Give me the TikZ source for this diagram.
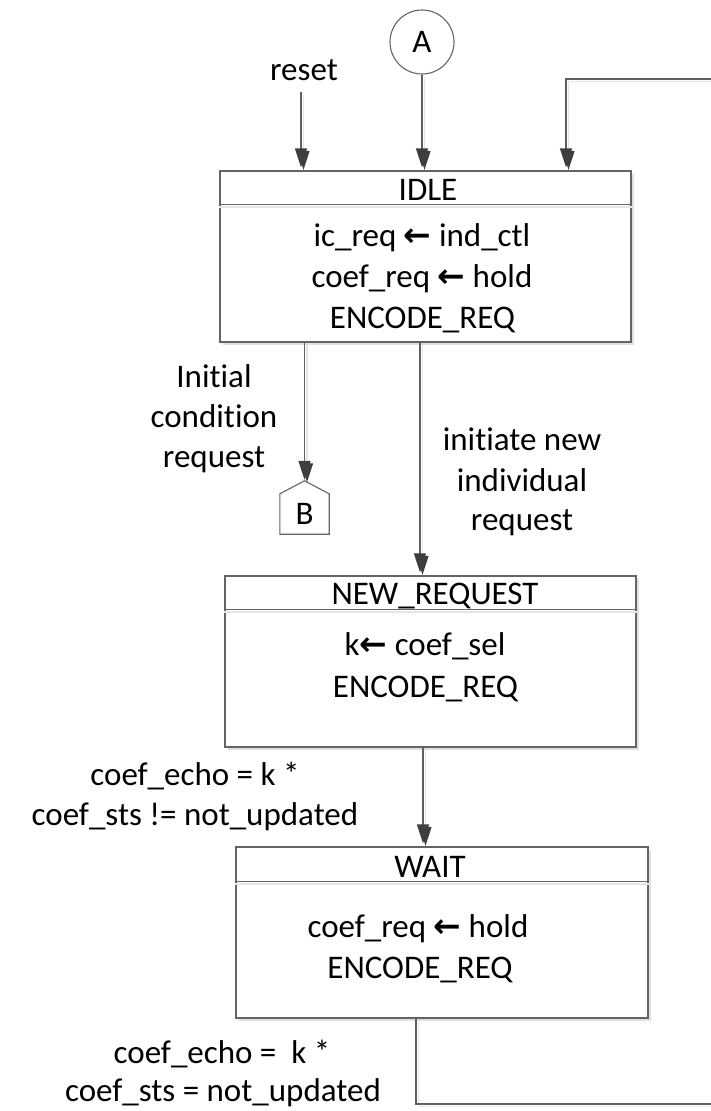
\documentclass[tikz,border=0pt]{standalone}
\usepackage{fontspec}
\setmainfont{Carlito}[Ligatures=NoCommon]
\newfontfamily\arrowfont{DejaVu Sans}
\usetikzlibrary{arrows.meta,shadows}

\definecolor{wirec}{RGB}{95,95,95}
\definecolor{tipc}{RGB}{62,62,62}
\definecolor{edgec}{RGB}{100,100,100}
\newcommand{\getsarrow}{{\arrowfont\bfseries ←}}

\begin{document}
\begin{tikzpicture}[x=1pt,y=-1pt,
  font=\fontsize{33}{40}\selectfont,
  wire/.style={draw=wirec, line width=1.3pt,
    preaction={draw=black!10, line width=1.3pt,
      transform canvas={shift={(2.5pt,-2.5pt)}}}},
  arr/.style={wire, -{Triangle[length=19pt,width=12pt,color=tipc]}, shorten >=3pt},
  state/.style={draw=edgec, line width=1.3pt, fill=white, inner sep=0pt,
    minimum width=411pt, minimum height=171pt,
    drop shadow={shadow xshift=2.5pt, shadow yshift=-2.5pt, fill=black!12, opacity=1}},
  hdr/.style={draw=edgec, line width=1.3pt,
    preaction={draw=black!10, line width=1.3pt,
      transform canvas={shift={(0pt,-2.5pt)}}}},
  txt/.style={anchor=base, inner sep=0pt},
  conn/.style={draw=edgec, line width=1.1pt, circle, minimum size=64pt, inner sep=0pt}
]
\useasboundingbox (0,0) rectangle (710,1111);

% ---------- states ----------
\node[state] (idle) at (425.5,256.5) {};
\node[state] (newreq) at (430.5,661.5) {};
\node[state, minimum width=412pt] (wait) at (442,932.5) {};

\draw[hdr] ([yshift=-34pt]idle.north west) -- ([yshift=-34pt]idle.north east);
\draw[hdr] ([yshift=-34pt]newreq.north west) -- ([yshift=-34pt]newreq.north east);
\draw[hdr] ([yshift=-35pt]wait.north west) -- ([yshift=-35pt]wait.north east);

% state titles and actions
\node[txt] (idleT) at (428,200) {IDLE};
\node[txt] (idle1) at (422,246) {ic\_req \getsarrow\ ind\_ctl};
\node[txt] (idle2) at (422,287) {coef\_req \getsarrow\ hold};
\node[txt] (idle3) at (422.5,328) {ENCODE\_REQ};

\node[txt] (newT) at (435,604) {NEW\_REQUEST};
\node[txt] (new1) at (425,655) {k\getsarrow\ coef\_sel};
\node[txt] (new2) at (425.5,697) {ENCODE\_REQ};

\node[txt] (waitT) at (430,877) {WAIT};
\node[txt] (wait1) at (418,937) {coef\_req \getsarrow\ hold};
\node[txt] (wait2) at (420,978) {ENCODE\_REQ};

% ---------- connectors A and B ----------
\node[conn] (A) at (422,42) {A};

\node[inner sep=0pt, minimum width=49pt, minimum height=40pt] (B) at (304.5,514) {\raisebox{-3pt}{B}};
\coordinate (Btip) at ([yshift=13pt]B.north);
\draw[edgec, line width=1.1pt, line join=miter]
  (B.south west) -- (B.north west) -- (Btip) -- (B.north east) -- (B.south east) -- cycle;

% ---------- entry arrows into IDLE ----------
\node[txt] (reset) at (304,80) {reset};
\coordinate (rs0) at (301,92);
\draw[arr] (rs0) -- (rs0 |- idle.north);

\draw[arr] (A.south) -- (A.south |- idle.north);

\coordinate (fbin) at (712,79);
\coordinate (fbcorner) at (566,79);
\draw[arr] (fbin) -- (fbcorner) -- (fbcorner |- idle.north);

% ---------- transitions ----------
\draw[arr, shorten >=1pt] (idle.south -| Btip) -- (Btip);
\node[txt] (ic1) at (214,387) {Initial};
\node[txt] (ic2) at (214,427) {condition};
\node[txt] (ic3) at (214,467) {request};

\coordinate (newx) at (420,0);
\draw[arr] (idle.south -| newx) -- (newreq.north -| newx);
\node[txt] (in1) at (522,450) {initiate new};
\node[txt] (in2) at (522,491) {individual};
\node[txt] (in3) at (522,530) {request};

\coordinate (waitx) at (423,0);
\draw[arr] (newreq.south -| waitx) -- (wait.north -| waitx);
\node[txt] (ce1) at (195,785) {coef\_echo = k *};
\node[txt] (ce2) at (195,825) {coef\_sts != not\_updated};

\coordinate (exitx) at (416,0);
\coordinate (exitcorner) at (416,1104);
\coordinate (exitout) at (712,1104);
\draw[wire] (wait.south -| exitx) -- (exitcorner) -- (exitout);
\node[txt] (cn1) at (222,1063) {coef\_echo =\ \ k *};
\node[txt] (cn2) at (223,1101) {coef\_sts = not\_updated};
\end{tikzpicture}
\end{document}
